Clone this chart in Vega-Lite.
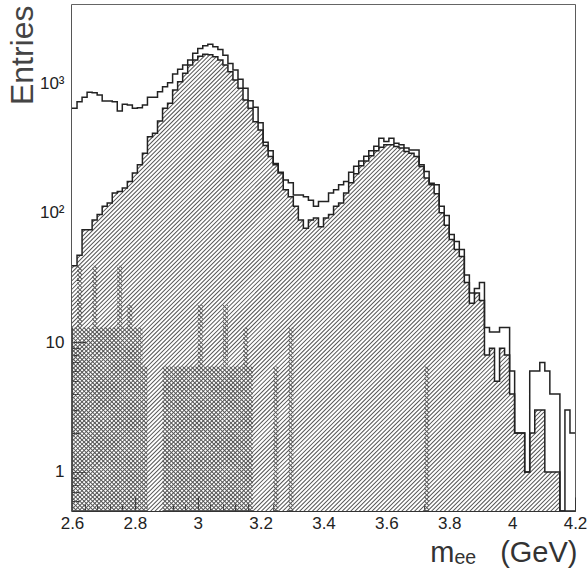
{
  "$schema": "https://vega.github.io/schema/vega-lite/v6.json",
  "width": 503,
  "height": 506,
  "autosize": {"type": "none"},
  "padding": {"left": 72, "top": 5, "right": 12, "bottom": 62},
  "config": {
    "view": {"stroke": "#333", "strokeWidth": 1.6},
    "font": "Liberation Sans",
    "axis": {"grid": false, "zindex": 1, "domainColor": "#333", "domainWidth": 1.2, "tickColor": "#333", "labelColor": "#222", "titleColor": "#333", "labelFont": "Liberation Sans", "titleFont": "Liberation Sans", "titleFontWeight": "normal"}
  },
  "datasets": {
    "hist": [
      {"lo":2.6,"hi":2.616,"total":640,"signal":39,"bkg":13},
      {"lo":2.616,"hi":2.632,"total":718,"signal":47,"bkg":39},
      {"lo":2.632,"hi":2.648,"total":776,"signal":74,"bkg":13},
      {"lo":2.648,"hi":2.664,"total":848,"signal":74,"bkg":13},
      {"lo":2.664,"hi":2.68,"total":842,"signal":88,"bkg":39},
      {"lo":2.68,"hi":2.696,"total":809,"signal":97,"bkg":13},
      {"lo":2.696,"hi":2.712,"total":727,"signal":112,"bkg":13},
      {"lo":2.712,"hi":2.728,"total":727,"signal":119,"bkg":13},
      {"lo":2.728,"hi":2.744,"total":718,"signal":142,"bkg":13},
      {"lo":2.744,"hi":2.76,"total":610,"signal":146,"bkg":39},
      {"lo":2.76,"hi":2.776,"total":686,"signal":155,"bkg":13},
      {"lo":2.776,"hi":2.792,"total":677,"signal":174,"bkg":19.5},
      {"lo":2.792,"hi":2.808,"total":639,"signal":202,"bkg":13},
      {"lo":2.808,"hi":2.824,"total":646,"signal":234,"bkg":13},
      {"lo":2.824,"hi":2.84,"total":677,"signal":288,"bkg":6.5},
      {"lo":2.84,"hi":2.856,"total":776,"signal":386,"bkg":0},
      {"lo":2.856,"hi":2.872,"total":776,"signal":410,"bkg":0},
      {"lo":2.872,"hi":2.888,"total":858,"signal":510,"bkg":0},
      {"lo":2.888,"hi":2.904,"total":937,"signal":638,"bkg":6.5},
      {"lo":2.904,"hi":2.92,"total":1005,"signal":698,"bkg":6.5},
      {"lo":2.92,"hi":2.936,"total":1173,"signal":884,"bkg":6.5},
      {"lo":2.936,"hi":2.952,"total":1275,"signal":1024,"bkg":6.5},
      {"lo":2.952,"hi":2.968,"total":1375,"signal":1188,"bkg":6.5},
      {"lo":2.968,"hi":2.984,"total":1503,"signal":1375,"bkg":6.5},
      {"lo":2.984,"hi":3.0,"total":1700,"signal":1503,"bkg":6.5},
      {"lo":3.0,"hi":3.016,"total":1850,"signal":1613,"bkg":19.5},
      {"lo":3.016,"hi":3.032,"total":1942,"signal":1670,"bkg":6.5},
      {"lo":3.032,"hi":3.048,"total":1995,"signal":1650,"bkg":6.5},
      {"lo":3.048,"hi":3.064,"total":1903,"signal":1593,"bkg":6.5},
      {"lo":3.064,"hi":3.08,"total":1816,"signal":1503,"bkg":6.5},
      {"lo":3.08,"hi":3.096,"total":1642,"signal":1375,"bkg":19.5},
      {"lo":3.096,"hi":3.112,"total":1418,"signal":1222,"bkg":6.5},
      {"lo":3.112,"hi":3.128,"total":1259,"signal":1055,"bkg":6.5},
      {"lo":3.128,"hi":3.144,"total":1068,"signal":910,"bkg":6.5},
      {"lo":3.144,"hi":3.16,"total":910,"signal":740,"bkg":13},
      {"lo":3.16,"hi":3.176,"total":731,"signal":639,"bkg":6.5},
      {"lo":3.176,"hi":3.192,"total":650,"signal":504,"bkg":0},
      {"lo":3.192,"hi":3.208,"total":495,"signal":435,"bkg":0},
      {"lo":3.208,"hi":3.224,"total":350,"signal":330,"bkg":0},
      {"lo":3.224,"hi":3.24,"total":300,"signal":271,"bkg":0},
      {"lo":3.24,"hi":3.256,"total":240,"signal":234,"bkg":6.5},
      {"lo":3.256,"hi":3.272,"total":205,"signal":202,"bkg":0},
      {"lo":3.272,"hi":3.288,"total":179,"signal":150,"bkg":0},
      {"lo":3.288,"hi":3.304,"total":170,"signal":133,"bkg":13},
      {"lo":3.304,"hi":3.32,"total":137,"signal":112,"bkg":0},
      {"lo":3.32,"hi":3.336,"total":137,"signal":88,"bkg":0},
      {"lo":3.336,"hi":3.352,"total":133,"signal":76,"bkg":0},
      {"lo":3.352,"hi":3.368,"total":125,"signal":88,"bkg":0},
      {"lo":3.368,"hi":3.384,"total":112,"signal":91,"bkg":0},
      {"lo":3.384,"hi":3.4,"total":122,"signal":78,"bkg":0},
      {"lo":3.4,"hi":3.416,"total":122,"signal":91,"bkg":0},
      {"lo":3.416,"hi":3.432,"total":142,"signal":97,"bkg":0},
      {"lo":3.432,"hi":3.448,"total":150,"signal":112,"bkg":0},
      {"lo":3.448,"hi":3.464,"total":164,"signal":119,"bkg":0},
      {"lo":3.464,"hi":3.48,"total":174,"signal":142,"bkg":0},
      {"lo":3.48,"hi":3.496,"total":205,"signal":170,"bkg":0},
      {"lo":3.496,"hi":3.512,"total":228,"signal":200,"bkg":0},
      {"lo":3.512,"hi":3.528,"total":250,"signal":230,"bkg":0},
      {"lo":3.528,"hi":3.544,"total":272,"signal":250,"bkg":0},
      {"lo":3.544,"hi":3.56,"total":300,"signal":275,"bkg":0},
      {"lo":3.56,"hi":3.576,"total":325,"signal":300,"bkg":0},
      {"lo":3.576,"hi":3.592,"total":376,"signal":320,"bkg":0},
      {"lo":3.592,"hi":3.608,"total":354,"signal":335,"bkg":0},
      {"lo":3.608,"hi":3.624,"total":376,"signal":334,"bkg":0},
      {"lo":3.624,"hi":3.64,"total":343,"signal":324,"bkg":0},
      {"lo":3.64,"hi":3.656,"total":334,"signal":315,"bkg":0},
      {"lo":3.656,"hi":3.672,"total":315,"signal":296,"bkg":0},
      {"lo":3.672,"hi":3.688,"total":305,"signal":288,"bkg":0},
      {"lo":3.688,"hi":3.704,"total":305,"signal":271,"bkg":0},
      {"lo":3.704,"hi":3.72,"total":234,"signal":227,"bkg":0},
      {"lo":3.72,"hi":3.736,"total":208,"signal":185,"bkg":6.5},
      {"lo":3.736,"hi":3.752,"total":169,"signal":164,"bkg":0},
      {"lo":3.752,"hi":3.768,"total":164,"signal":140,"bkg":0},
      {"lo":3.768,"hi":3.784,"total":112,"signal":100,"bkg":0},
      {"lo":3.784,"hi":3.8,"total":95,"signal":80,"bkg":0},
      {"lo":3.8,"hi":3.816,"total":68,"signal":62,"bkg":0},
      {"lo":3.816,"hi":3.832,"total":60,"signal":52,"bkg":0},
      {"lo":3.832,"hi":3.848,"total":52,"signal":46,"bkg":0},
      {"lo":3.848,"hi":3.864,"total":33,"signal":29,"bkg":0},
      {"lo":3.864,"hi":3.88,"total":24,"signal":20,"bkg":0},
      {"lo":3.88,"hi":3.896,"total":26,"signal":24,"bkg":0},
      {"lo":3.896,"hi":3.912,"total":29,"signal":21,"bkg":0},
      {"lo":3.912,"hi":3.928,"total":13,"signal":8,"bkg":0},
      {"lo":3.928,"hi":3.944,"total":12,"signal":9,"bkg":0},
      {"lo":3.944,"hi":3.96,"total":12,"signal":5,"bkg":0},
      {"lo":3.96,"hi":3.976,"total":13,"signal":9,"bkg":0},
      {"lo":3.976,"hi":3.992,"total":13,"signal":8,"bkg":0},
      {"lo":3.992,"hi":4.008,"total":6,"signal":4,"bkg":0},
      {"lo":4.008,"hi":4.024,"total":2,"signal":2,"bkg":0},
      {"lo":4.024,"hi":4.04,"total":2,"signal":2,"bkg":0},
      {"lo":4.04,"hi":4.056,"total":1,"signal":1,"bkg":0},
      {"lo":4.056,"hi":4.072,"total":6,"signal":2,"bkg":0},
      {"lo":4.072,"hi":4.088,"total":6,"signal":3,"bkg":0},
      {"lo":4.088,"hi":4.104,"total":7,"signal":3,"bkg":0},
      {"lo":4.104,"hi":4.12,"total":6,"signal":1,"bkg":0},
      {"lo":4.12,"hi":4.136,"total":4,"signal":1,"bkg":0},
      {"lo":4.136,"hi":4.152,"total":4,"signal":1,"bkg":0},
      {"lo":4.152,"hi":4.168,"total":0,"signal":0,"bkg":0},
      {"lo":4.168,"hi":4.184,"total":3,"signal":0,"bkg":0},
      {"lo":4.184,"hi":4.2,"total":2,"signal":0,"bkg":0},
      {"lo":4.2,"hi":null,"total":2,"signal":0,"bkg":0}
    ]
  },
  "data": {"name": "hist"},
  "resolve": {"axis": {"x": "independent", "y": "independent"}},
  "layer": [
    {
      "data": {"values": [{}]},
      "mark": {"type": "rule", "strokeWidth": 730, "strokeDash": [1, 2], "color": "#555", "clip": true},
      "encoding": {
        "x": {"datum": 2.6, "type": "quantitative", "scale": {"domain": [2.6, 4.2], "nice": false, "zero": false},
          "axis": {"orient": "bottom", "values": [2.6, 2.8, 3.0, 3.2, 3.4, 3.6, 3.8, 4.0, 4.2], "format": "~g", "tickSize": -14, "labelPadding": 18, "labelFontSize": 17, "labelFlush": false,
            "title": "mₑₑ\u00a0\u00a0\u00a0(GeV)", "titleFontSize": 29, "titleAnchor": "end", "titleAlign": "right", "titleX": 505, "titleY": 50, "titleBaseline": "alphabetic"}},
        "x2": {"datum": 4.2},
        "y": {"datum": 0.5, "type": "quantitative", "scale": {"type": "log", "domain": [0.5, 4000], "nice": false, "clamp": true},
          "axis": {"orient": "left", "values": [1, 10, 100, 1000], "labelExpr": "datum.value == 1000 ? '10³' : datum.value == 100 ? '10²' : datum.value == 10 ? '10' : '1'", "tickSize": -14, "labelPadding": 22, "labelFontSize": 17,
            "title": "Entries", "titleFontSize": 32, "titleColor": "#444", "titleAngle": 270, "titleAlign": "right", "titleBaseline": "alphabetic", "titleX": -40, "titleY": 0}},
        "y2": {"datum": 4000}
      }
    },
    {
      "mark": {"type": "area", "interpolate": "step-after", "color": "white", "opacity": 1, "clip": true},
      "encoding": {
        "x": {"field": "lo", "type": "quantitative",
          "axis": {"orient": "bottom", "values": [2.64, 2.68, 2.72, 2.76, 2.84, 2.88, 2.92, 2.96, 3.04, 3.08, 3.12, 3.16, 3.24, 3.28, 3.32, 3.36, 3.44, 3.48, 3.52, 3.56, 3.64, 3.68, 3.72, 3.76, 3.84, 3.88, 3.92, 3.96, 4.04, 4.08, 4.12, 4.16], "tickSize": -7, "labels": false, "domain": false, "title": null}},
        "y": {"field": "bkg", "type": "quantitative",
          "axis": {"orient": "left", "values": [0.6, 0.7, 0.8, 0.9, 2, 3, 4, 5, 6, 7, 8, 9, 20, 30, 40, 50, 60, 70, 80, 90, 200, 300, 400, 500, 600, 700, 800, 900, 2000, 3000], "tickSize": -7, "labels": false, "domain": false, "title": null}},
        "y2": {"datum": 4000}
      }
    },
    {
      "data": {"values": [{}]},
      "mark": {"type": "rule", "strokeWidth": 730, "strokeDash": [1, 2], "color": "#555", "clip": true},
      "encoding": {
        "x": {"datum": 2.6, "type": "quantitative", "axis": null},
        "x2": {"datum": 4.2},
        "y": {"datum": 4000, "type": "quantitative", "axis": null},
        "y2": {"datum": 0.5}
      }
    },
    {
      "mark": {"type": "area", "interpolate": "step-after", "color": "white", "opacity": 1, "clip": true},
      "encoding": {
        "x": {"field": "lo", "type": "quantitative", "axis": null},
        "y": {"field": "signal", "type": "quantitative", "axis": null},
        "y2": {"datum": 4000}
      }
    },
    {
      "mark": {"type": "line", "interpolate": "step-after", "color": "#222", "strokeWidth": 1.5, "clip": true},
      "encoding": {
        "x": {"field": "lo", "type": "quantitative", "axis": null},
        "y": {"field": "signal", "type": "quantitative", "axis": null}
      }
    },
    {
      "mark": {"type": "line", "interpolate": "step-after", "color": "#222", "strokeWidth": 1.5, "clip": true},
      "encoding": {
        "x": {"field": "lo", "type": "quantitative", "axis": null},
        "y": {"field": "total", "type": "quantitative", "axis": null}
      }
    }
  ]
}
